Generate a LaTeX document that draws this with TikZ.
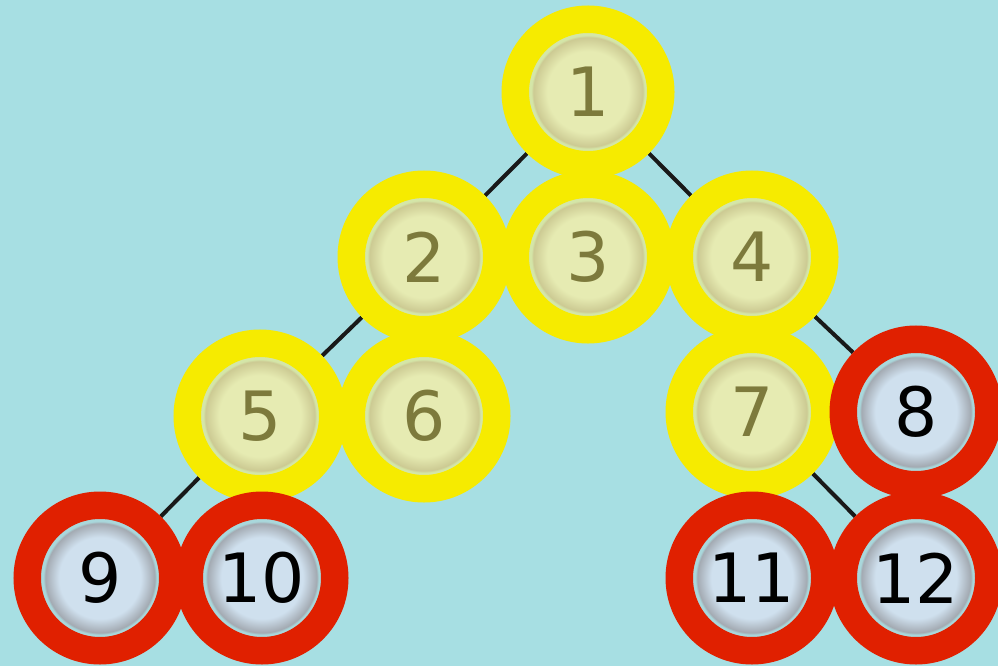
\documentclass[tikz,border=0pt]{standalone}
\usepackage{fontspec}
\setsansfont{DejaVu Sans}
\usetikzlibrary{backgrounds}
\definecolor{colBg}{HTML}{A7DFE3}
\definecolor{colYelRing}{HTML}{F6EB00}
\definecolor{colRedRing}{HTML}{E02000}
\definecolor{colYelIn}{HTML}{E6EBB2}
\definecolor{colYelRim}{HTML}{CCCA93}
\definecolor{colYelEdge}{HTML}{D4E6A8}
\definecolor{colBluIn}{HTML}{CFE0EE}
\definecolor{colBluRim}{HTML}{A3AAB2}
\definecolor{colBluEdge}{HTML}{A9D8DC}
\definecolor{colYelText}{HTML}{7D7A3C}
\pgfdeclareradialshading{ballYel}{\pgfpoint{0bp}{0bp}}{color(0bp)=(colYelIn); color(14bp)=(colYelIn); color(18.8bp)=(colYelRim); color(19.5bp)=(colYelEdge); color(25bp)=(colYelEdge)}
\pgfdeclareradialshading{ballBlu}{\pgfpoint{0bp}{0bp}}{color(0bp)=(colBluIn); color(14bp)=(colBluIn); color(18.8bp)=(colBluRim); color(19.5bp)=(colBluEdge); color(25bp)=(colBluEdge)}
\tikzset{
  ball/.style={circle, minimum size=145.5pt, inner sep=0pt, line width=27.5pt,
    font=\fontsize{68}{68}\selectfont\sffamily},
  yball/.style={ball, draw=colYelRing, shading=ballYel, text=colYelText},
  rball/.style={ball, draw=colRedRing, shading=ballBlu, text=black},
  edge/.style={black!90, line width=4pt}
}
\begin{document}
\begin{tikzpicture}[x=1pt, y=-1pt]
    \useasboundingbox (0,0) rectangle (998,666);
    % nodes
    \node[yball] (n1) at (588, 92) {1};
    \node[yball] (n2) at (424, 257) {2};
    \node[yball] (n3) at (588, 257) {3};
    \node[yball] (n4) at (752, 257) {4};
    \node[yball] (n5) at (260, 416) {5};
    \node[yball] (n6) at (424, 416) {6};
    \node[yball] (n7) at (752, 412) {7};
    \node[rball] (n8) at (916, 412) {8};
    \node[rball] (n9) at (100, 578) {9};
    \node[rball] (n10) at (262, 578) {10};
    \node[rball] (n11) at (752, 578) {11};
    \node[rball] (n12) at (916, 578) {12};
    % edges
    \begin{scope}[on background layer]
      \fill[colBg] (0,0) rectangle (998,666);
      \draw[edge] (n1) -- (n2);
      \draw[edge] (n1) -- (n3);
      \draw[edge] (n1) -- (n4);
      \draw[edge] (n2) -- (n5);
      \draw[edge] (n2) -- (n6);
      \draw[edge] (n4) -- (n7);
      \draw[edge] (n4) -- (n8);
      \draw[edge] (n5) -- (n9);
      \draw[edge] (n5) -- (n10);
      \draw[edge] (n7) -- (n11);
      \draw[edge] (n7) -- (n12);
    \end{scope}
\end{tikzpicture}
\end{document}
